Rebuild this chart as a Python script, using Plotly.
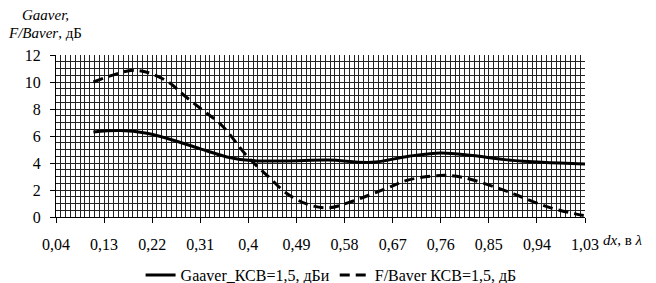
import plotly.graph_objects as go

# Data
g_x = [0.11, 0.16, 0.21, 0.25, 0.31, 0.36, 0.40, 0.47, 0.55, 0.63, 0.70, 0.76, 0.82, 0.88, 0.95, 1.03]
g_y = [6.3, 6.4, 6.2, 5.8, 5.05, 4.45, 4.2, 4.15, 4.22, 4.05, 4.5, 4.75, 4.55, 4.25, 4.05, 3.93]

f_x = [0.11, 0.18, 0.21, 0.25, 0.28, 0.315, 0.35, 0.40, 0.44, 0.47, 0.51, 0.55, 0.59, 0.66, 0.70, 0.76, 0.80, 0.87, 0.91, 0.96, 1.01, 1.03]
f_y = [10.0, 10.85, 10.72, 10.0, 9.0, 7.9, 6.8, 4.4, 2.9, 1.8, 0.95, 0.68, 1.1, 2.15, 2.75, 3.08, 2.95, 2.1, 1.5, 0.75, 0.25, 0.1]

x_ticks = [0.04, 0.13, 0.22, 0.31, 0.40, 0.49, 0.58, 0.67, 0.76, 0.85, 0.94, 1.03]
x_tick_labels = ["0,04", "0,13", "0,22", "0,31", "0,4", "0,49", "0,58", "0,67", "0,76", "0,85", "0,94", "1,03"]

name_g = "Gaaver_КСВ=1,5, дБи"
name_f = "F/Baver КСВ=1,5, дБ"

FONT = '"Liberation Serif", "Times New Roman", serif'
GRID = "#222222"

fig = go.Figure()
fig.add_trace(go.Scatter(x=g_x, y=g_y, mode="lines", name=name_g,
                         line=dict(color="black", width=3, shape="spline", smoothing=1.0)))
fig.add_trace(go.Scatter(x=f_x, y=f_y, mode="lines", name=name_f,
                         line=dict(color="black", width=3, shape="spline", smoothing=1.0, dash="10px,6px")))

fig.update_layout(
    width=656, height=283,
    margin=dict(l=48, r=79, t=47, b=74, autoexpand=False),
    paper_bgcolor="white", plot_bgcolor="white",
    font=dict(family=FONT, size=16, color="black"),
    showlegend=True,
    legend=dict(orientation="h", x=0.52, xanchor="center", yref="container", y=0.056, yanchor="middle",
                font=dict(family=FONT, size=16, color="black"),
                bgcolor="rgba(0,0,0,0)", tracegroupgap=0, itemwidth=30),
    xaxis=dict(range=[0.04, 1.03], tickmode="array", tickvals=x_ticks, ticktext=x_tick_labels,
               showgrid=True, gridcolor=GRID, gridwidth=1,
               minor=dict(dtick=0.009, tick0=0.04, showgrid=True, gridcolor=GRID, gridwidth=1),
               ticks="outside", ticklen=5, tickcolor="black", automargin=False,
               showline=True, linecolor="black", linewidth=1, zeroline=False,
               ticklabelstandoff=8),
    yaxis=dict(range=[0, 12], dtick=2, tick0=0,
               showgrid=True, gridcolor=GRID, gridwidth=1,
               minor=dict(dtick=0.5, tick0=0, showgrid=True, gridcolor=GRID, gridwidth=1),
               ticks="outside", ticklen=5, tickcolor="black", automargin=False,
               showline=True, linecolor="black", linewidth=1, zeroline=False,
               ticklabelstandoff=6),
)

fig.add_annotation(text="<i>Gaaver,</i>", xref="paper", yref="paper", x=-0.068, y=1.25,
                   xanchor="left", yanchor="middle", showarrow=False,
                   font=dict(family=FONT, size=15, color="black"))
fig.add_annotation(text="<i>F/Baver</i>, дБ", xref="paper", yref="paper", x=-0.094, y=1.135,
                   xanchor="left", yanchor="middle", showarrow=False,
                   font=dict(family=FONT, size=15, color="black"))
fig.add_annotation(text="<i>dx</i>, в <i>λ</i>", xref="paper", yref="paper", x=1.03, y=-0.145,
                   xanchor="left", yanchor="middle", showarrow=False,
                   font=dict(family=FONT, size=15, color="black"))

fig.write_html("out.html")
